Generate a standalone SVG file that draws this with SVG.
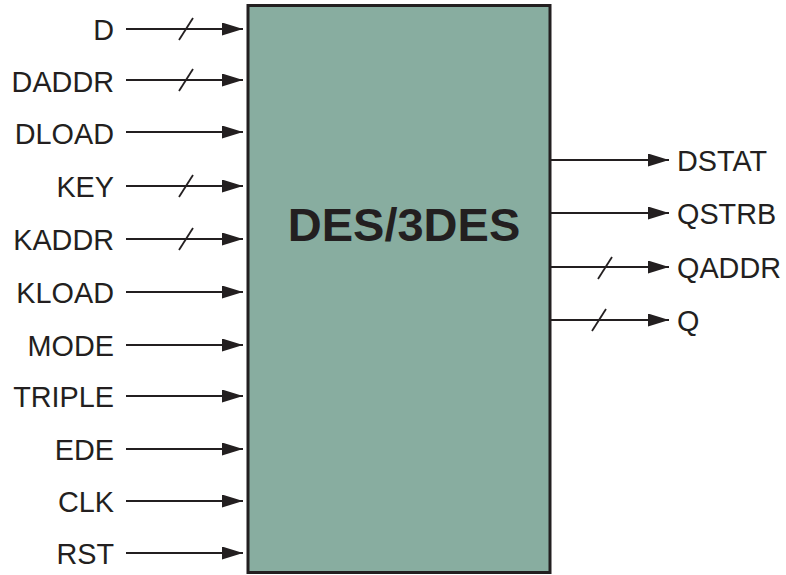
<svg xmlns="http://www.w3.org/2000/svg" width="786" height="575" viewBox="0 0 786 575">
<defs>
<marker id="ah" markerWidth="21" markerHeight="13" refX="21" refY="6.5" orient="auto" markerUnits="userSpaceOnUse">
<path d="M0,0 L21,6.5 L0,13 Z" fill="#231f20"/>
</marker>
<style>
.lbl{font-family:"Liberation Sans",Arial,sans-serif;font-size:28.8px;fill:#231f20}
.w{stroke:#231f20;stroke-width:2.2;fill:none}
.s{stroke:#231f20;stroke-width:1.8}
</style>
</defs>
<rect width="786" height="575" fill="#ffffff"/>
<g id="block">
<rect x="248" y="5.5" width="302" height="567" fill="#88ada0" stroke="#231f20" stroke-width="3"/>
<text x="404" y="241" text-anchor="middle" font-family="'Liberation Sans',Arial,sans-serif" font-weight="bold" font-size="47" fill="#231f20">DES/3DES</text>
</g>
<g id="labels-in">
<text class="lbl" x="114" y="40" text-anchor="end">D</text>
<text class="lbl" x="114" y="92" text-anchor="end">DADDR</text>
<text class="lbl" x="114" y="144" text-anchor="end">DLOAD</text>
<text class="lbl" x="114" y="197" text-anchor="end">KEY</text>
<text class="lbl" x="114" y="250" text-anchor="end">KADDR</text>
<text class="lbl" x="114" y="303" text-anchor="end">KLOAD</text>
<text class="lbl" x="114" y="356" text-anchor="end">MODE</text>
<text class="lbl" x="114" y="407" text-anchor="end">TRIPLE</text>
<text class="lbl" x="114" y="460" text-anchor="end">EDE</text>
<text class="lbl" x="114" y="512" text-anchor="end">CLK</text>
<text class="lbl" x="114" y="564" text-anchor="end">RST</text>
</g>
<g id="labels-out">
<text class="lbl" x="677" y="171">DSTAT</text>
<text class="lbl" x="677" y="224">QSTRB</text>
<text class="lbl" x="677" y="278">QADDR</text>
<text class="lbl" x="677" y="331">Q</text>
</g>
<g id="connectors">
<line class="w" x1="126" y1="29" x2="243" y2="29" marker-end="url(#ah)"/>
<line class="w" x1="126" y1="80" x2="243" y2="80" marker-end="url(#ah)"/>
<line class="w" x1="126" y1="132" x2="243" y2="132" marker-end="url(#ah)"/>
<line class="w" x1="126" y1="186" x2="243" y2="186" marker-end="url(#ah)"/>
<line class="w" x1="126" y1="239" x2="243" y2="239" marker-end="url(#ah)"/>
<line class="w" x1="126" y1="292" x2="243" y2="292" marker-end="url(#ah)"/>
<line class="w" x1="126" y1="345" x2="243" y2="345" marker-end="url(#ah)"/>
<line class="w" x1="126" y1="396" x2="243" y2="396" marker-end="url(#ah)"/>
<line class="w" x1="126" y1="449" x2="243" y2="449" marker-end="url(#ah)"/>
<line class="w" x1="126" y1="501" x2="243" y2="501" marker-end="url(#ah)"/>
<line class="w" x1="126" y1="553" x2="243" y2="553" marker-end="url(#ah)"/>
<line class="w" x1="551" y1="160" x2="669" y2="160" marker-end="url(#ah)"/>
<line class="w" x1="551" y1="213" x2="669" y2="213" marker-end="url(#ah)"/>
<line class="w" x1="551" y1="267" x2="669" y2="267" marker-end="url(#ah)"/>
<line class="w" x1="551" y1="320" x2="669" y2="320" marker-end="url(#ah)"/>
<line class="s" x1="179" y1="40" x2="193" y2="18"/>
<line class="s" x1="179" y1="91" x2="193" y2="69"/>
<line class="s" x1="179" y1="197" x2="193" y2="175"/>
<line class="s" x1="179" y1="250" x2="193" y2="228"/>
<line class="s" x1="598" y1="279" x2="612" y2="257"/>
<line class="s" x1="592" y1="331" x2="606" y2="309"/>
</g>
</svg>
